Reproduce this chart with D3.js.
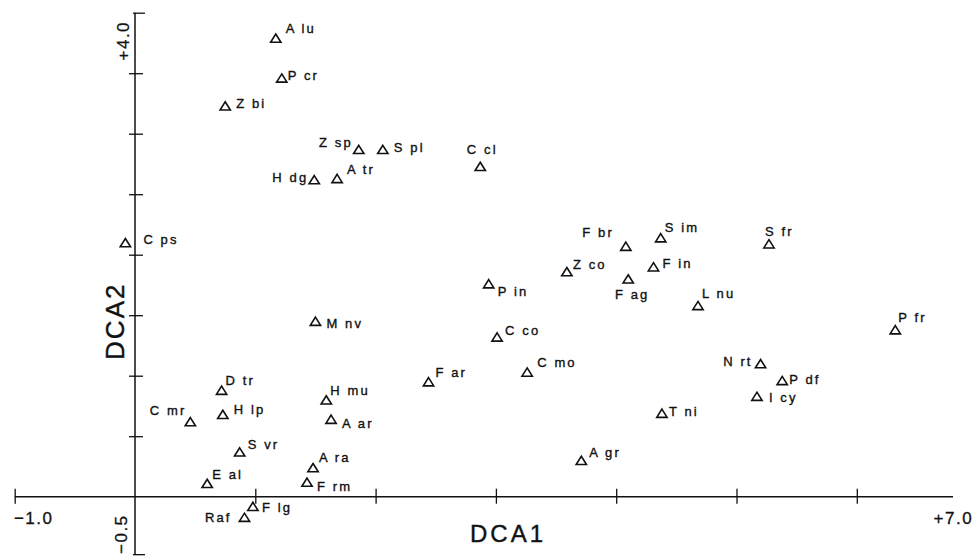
<!DOCTYPE html>
<html>
<head>
<meta charset="utf-8">
<script src="https://cdn.jsdelivr.net/npm/d3@7"></script>
<style>
  html, body { margin: 0; padding: 0; background: #fff; }
  svg { display: block; }
  text { font-family: "Liberation Sans", Arial, sans-serif; fill: #111; white-space: pre; }
</style>
</head>
<body>
<svg id="chart" width="975" height="559"></svg>
<script>
// Species scores on the first two DCA axes
const species = ["A lu", "P cr", "Z bi", "Z sp", "S pl", "H dg", "A tr", "C cl", "C ps",
  "F br", "S im", "S fr", "Z co", "F in", "F ag", "L nu", "P fr", "P in", "C co", "C mo",
  "F ar", "M nv", "N rt", "P df", "I cy", "T ni", "A gr", "D tr", "H lp", "C mr", "H mu",
  "A ar", "S vr", "A ra", "F rm", "E al", "F lg", "Raf"];
const dca1 = [1.17, 1.22, 0.75, 1.86, 2.06, 1.49, 1.68, 2.87, -0.08,
  4.08, 4.37, 5.27, 3.59, 4.31, 4.10, 4.68, 6.32, 2.94, 3.01, 3.26,
  2.44, 1.50, 5.20, 5.38, 5.17, 4.38, 3.71, 0.72, 0.73, 0.46, 1.59,
  1.63, 0.87, 1.48, 1.43, 0.60, 0.98, 0.91];
const dca2 = [3.79, 3.46, 3.23, 2.87, 2.87, 2.62, 2.63, 2.73, 2.10,
  2.07, 2.14, 2.09, 1.86, 1.90, 1.80, 1.58, 1.38, 1.76, 1.32, 1.03,
  0.95, 1.45, 1.10, 0.96, 0.83, 0.69, 0.30, 0.88, 0.68, 0.62, 0.80,
  0.64, 0.37, 0.24, 0.12, 0.11, -0.08, -0.17];

// Axis extents, ticks and end labels
const xExtent = [-1.0, 6.8];
const yExtent = [-0.475, 4.0];
const xTickValues = [-1, 1, 2, 3, 4, 5, 6];
const yTickValues = [0.5, 1.0, 1.5, 2.0, 2.5, 3.0, 3.5];
const xEndLabels = ["\u22121.0", "+7.0"];
const yEndLabels = ["\u22120.5", "+4.0"];
const axisTitles = ["DCA1", "DCA2"];

// Where each species label sits relative to its marker: [anchor, dx, dy]
const labelPlacement = [
  ["start", 10, -5], ["start", 6, 2], ["start", 11, 2], ["end", -6, -2], ["start", 11, 3],
  ["end", -6, 2], ["start", 10, -4], ["middle", 2, -12], ["start", 18, 1],
  ["end", -12, -9], ["start", 4, -6], ["start", -4, -8], ["start", 6, -3], ["start", 9, 1],
  ["middle", 4, 20], ["start", 4, -8], ["start", 3, -8], ["start", 9, 12], ["start", 8, -2],
  ["start", 10, -5], ["start", 7, -5], ["start", 11, 7], ["end", -8, 2], ["start", 7, 3],
  ["start", 12, 6], ["start", 7, 3], ["start", 8, -3], ["start", 4, -5], ["start", 11, 0],
  ["end", -4, -7], ["start", 4, -5], ["start", 11, 9], ["start", 8, -3], ["start", 6, -6],
  ["start", 10, 9], ["start", 5, -4], ["start", 9, 6], ["end", -13, 5]
];

const svg = d3.select("#chart");

const x = d3.scaleLinear().domain([-1, 7]).range([14.7, 977.1]);
const y = d3.scaleLinear().domain([-0.5, 4.0]).range([557.2, 12.7]);

const ink = "#111";

// Horizontal axis (DCA1), crossing at DCA2 = 0
const gx = svg.append("g")
  .attr("transform", `translate(0,${y(0)})`)
  .call(d3.axisBottom(x).tickValues(xTickValues).tickFormat("").tickSizeOuter(0));
gx.select(".domain").remove();
gx.selectAll(".tick line").attr("y1", -8).attr("y2", 7).attr("stroke", ink).attr("stroke-width", 1.3);
gx.append("line")
  .attr("x1", x(xExtent[0])).attr("x2", x(xExtent[1]))
  .attr("stroke", ink).attr("stroke-width", 1.5);

// Vertical axis (DCA2), crossing at DCA1 = 0
const gy = svg.append("g")
  .attr("transform", `translate(${x(0)},0)`)
  .call(d3.axisLeft(y).tickValues(yTickValues).tickFormat("").tickSizeOuter(0));
gy.select(".domain").remove();
gy.selectAll(".tick line").attr("x1", -6).attr("x2", 8).attr("stroke", ink).attr("stroke-width", 1.3);
gy.append("line")
  .attr("y1", y(yExtent[0])).attr("y2", y(yExtent[1]))
  .attr("stroke", ink).attr("stroke-width", 1.5);

// Small end caps on the vertical axis
const gcap = svg.append("g")
  .attr("transform", `translate(${x(0)},0)`)
  .call(d3.axisRight(y).tickValues(yExtent).tickFormat("").tickSizeOuter(0).tickSize(10));
gcap.select(".domain").remove();
gcap.selectAll(".tick line").attr("x1", -2).attr("stroke", ink).attr("stroke-width", 1.3);

// End labels of the axes
const endLabel = (sel) => sel.attr("font-size", 17).attr("letter-spacing", 1.5)
  .attr("stroke", ink).attr("stroke-width", 0.3);
svg.append("text")
  .attr("x", x(-1) + 19).attr("y", y(0) + 27)
  .attr("text-anchor", "middle").call(endLabel)
  .text(xEndLabels[0]);
svg.append("text")
  .attr("x", x(7) - 4).attr("y", y(0) + 27)
  .attr("text-anchor", "end").call(endLabel)
  .text(xEndLabels[1]);
svg.append("text")
  .attr("transform", `translate(${x(0) - 8},${y(-0.5) - 23}) rotate(-90)`)
  .attr("text-anchor", "middle").call(endLabel)
  .text(yEndLabels[0]);
svg.append("text")
  .attr("transform", `translate(${x(0) - 6},${y(4.0) + 28}) rotate(-90)`)
  .attr("text-anchor", "middle").call(endLabel)
  .text(yEndLabels[1]);

// Axis titles
svg.append("text")
  .attr("x", 508).attr("y", 542)
  .attr("text-anchor", "middle").attr("font-size", 24).attr("letter-spacing", 3)
  .attr("stroke", ink).attr("stroke-width", 0.4)
  .text(axisTitles[0]);
svg.append("text")
  .attr("transform", `translate(124,${y(1.45)}) rotate(-90)`)
  .attr("text-anchor", "middle").attr("font-size", 26).attr("letter-spacing", 2)
  .attr("stroke", ink).attr("stroke-width", 0.4)
  .text(axisTitles[1]);

// Open triangle marker, centred on its bounding box
const openTriangle = {
  draw(ctx, size) {
    const w = Math.sqrt(size) * 0.78, h = w * 0.8;
    ctx.moveTo(0, -h / 2);
    ctx.lineTo(w / 2, h / 2);
    ctx.lineTo(-w / 2, h / 2);
    ctx.closePath();
  }
};
const marker = d3.symbol().type(openTriangle).size(175);

const points = species.map((name, i) => ({ name, sx: dca1[i], sy: dca2[i], place: labelPlacement[i] }));

const g = svg.append("g");
const pt = g.selectAll("g.pt").data(points).join("g")
  .attr("class", "pt")
  .attr("transform", d => `translate(${x(d.sx)},${y(d.sy)})`);

pt.append("path")
  .attr("d", marker)
  .attr("fill", "none")
  .attr("stroke", ink)
  .attr("stroke-width", 1.6)
  .attr("stroke-linejoin", "miter");

pt.append("text")
  .attr("x", d => d.place[1])
  .attr("y", d => d.place[2])
  .attr("text-anchor", d => d.place[0])
  .attr("font-size", 13)
  .attr("letter-spacing", 2.1)
  .attr("stroke", ink)
  .attr("stroke-width", 0.35)
  .text(d => d.name);
</script>
</body>
</html>
